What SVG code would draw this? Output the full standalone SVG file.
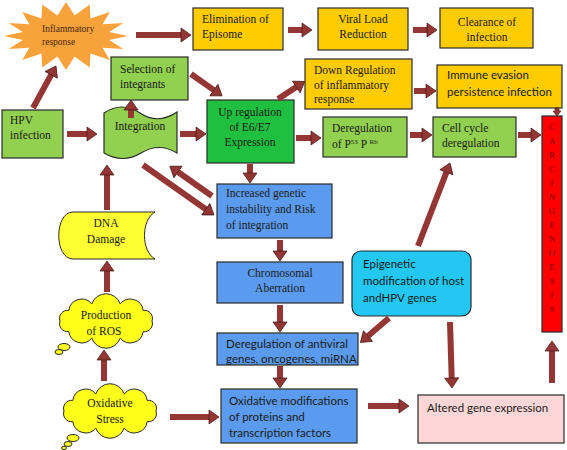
<svg xmlns="http://www.w3.org/2000/svg" width="567" height="450" viewBox="0 0 567 450">
<defs>
<marker id="ah" markerUnits="userSpaceOnUse" markerWidth="12" markerHeight="16" refX="0" refY="8" orient="auto" overflow="visible">
<path d="M0,1 L10,8 L0,15 Z" fill="#943634" stroke="#3d1414" stroke-width="0.7"/>
</marker>
</defs>
<style>
.bx{stroke:#2a2a2a;stroke-width:1.2}
.y{fill:#FFCC00}
.g{fill:#92D050}
.dg{fill:#1FBF3F}
.b{fill:#5B9BEF}
.cy{fill:#22C7F2}
.pk{fill:#FDD7D7}
.s{font-family:'Liberation Serif','Times New Roman',serif;font-size:11.5px;fill:#1a1a1a}
.ss{font-family:Lato,'Liberation Sans',sans-serif;font-size:11.5px;fill:#1a1a1a}
.c{text-anchor:middle}
.ar{stroke:#943634;stroke-width:6;fill:none;marker-end:url(#ah)}
.cl{fill:#FFFF1A;stroke:#2a2a2a;stroke-width:1}
.lt{font-family:'Liberation Serif',serif;font-size:9px;fill:#7a0000;text-anchor:middle}
</style>
<rect width="567" height="450" fill="#ffffff"/>

<g id="inflammatory">
<polygon points="128,36 109.2,40.1 123.3,49 102.6,47.7 109.8,60 90.5,53.5 89.7,67.4 74.6,56.6 66,70 57.4,56.6 42.3,67.4 41.5,53.5 22.2,60 29.4,47.7 8.7,49 22.8,40.1 4,36 22.8,31.9 8.7,23 29.4,24.3 22.2,12 41.5,18.5 42.3,4.6 57.4,15.4 66,2 74.6,15.4 89.7,4.6 90.5,18.5 109.8,12 102.6,24.3 123.3,23 109.2,31.9" fill="#F8A23C"/>
<text x="42" y="32" font-family="Liberation Serif, serif" font-size="9.5" fill="#4a2a10">Inflammatory</text>
<text x="42" y="45" font-family="Liberation Serif, serif" font-size="9.5" fill="#4a2a10">response</text>
</g>

<g id="elimination">
<rect x="193" y="8" width="90" height="42" class="bx y"/>
<text x="202" y="23" class="s">Elimination of</text>
<text x="202" y="38" class="s">Episome</text>
</g>
<g id="viral">
<rect x="318" y="8" width="90" height="42" class="bx y"/>
<text x="363" y="23" class="s c">Viral Load</text>
<text x="363" y="38" class="s c">Reduction</text>
</g>
<g id="clearance">
<rect x="440" y="8" width="93" height="40" class="bx y"/>
<text x="487" y="26" class="s c">Clearance of</text>
<text x="487" y="41" class="s c">infection</text>
</g>

<g id="selection">
<rect x="111" y="57" width="77" height="43" class="bx g"/>
<text x="120" y="73" class="s">Selection of</text>
<text x="120" y="88" class="s">integrants</text>
</g>
<g id="hpv">
<rect x="2" y="110" width="61" height="48" class="bx g"/>
<text x="10" y="124" class="s">HPV</text>
<text x="10" y="139" class="s">infection</text>
</g>
<g id="integration">
<path d="M104,113 Q122,101 140,113 T177,112 L177,153 Q159,142 141,153 T104,153 Z" class="bx g"/>
<text x="140" y="130" class="s c">Integration</text>
</g>
<g id="upregulation">
<rect x="207" y="100" width="87" height="63" class="bx dg"/>
<text x="250" y="116" class="s c">Up regulation</text>
<text x="250" y="131" class="s c">of E6/E7</text>
<text x="250" y="146" class="s c">Expression</text>
</g>
<g id="downregulation">
<rect x="305" y="59" width="107" height="50" class="bx y"/>
<text x="314" y="74" class="s">Down Regulation</text>
<text x="314" y="89" class="s">of inflammatory</text>
<text x="314" y="103" class="s">response</text>
</g>
<g id="immune">
<rect x="437" y="65" width="125" height="43" class="bx y"/>
<text x="447" y="79" class="ss">Immune evasion</text>
<text x="447" y="96" class="ss">persistence infection</text>
</g>
<g id="p53">
<rect x="323" y="117" width="84" height="40" class="bx g"/>
<text x="332" y="132" class="s">Deregulation</text>
<text x="332" y="148" class="s">of P<tspan dy="-4" font-size="7">53</tspan><tspan dy="4"> P </tspan><tspan dy="-4" font-size="7">Rb</tspan></text>
</g>
<g id="cellcycle">
<rect x="433" y="117" width="83" height="40" class="bx g"/>
<text x="442" y="132" class="s">Cell cycle</text>
<text x="442" y="147" class="s">deregulation</text>
</g>
<g id="carcinogenesis">
<rect x="542" y="116" width="20" height="216" class="bx" fill="#FF0000"/>
<text x="552" y="130" class="lt">C</text>
<text x="552" y="144" class="lt">A</text>
<text x="552" y="158" class="lt">R</text>
<text x="552" y="172" class="lt">C</text>
<text x="552" y="186" class="lt">I</text>
<text x="552" y="200" class="lt">N</text>
<text x="552" y="214" class="lt">G</text>
<text x="552" y="228" class="lt">E</text>
<text x="552" y="242" class="lt">N</text>
<text x="552" y="256" class="lt">O</text>
<text x="552" y="270" class="lt">E</text>
<text x="552" y="284" class="lt">S</text>
<text x="552" y="298" class="lt">I</text>
<text x="552" y="312" class="lt">S</text>
</g>
<g id="instability">
<rect x="217" y="184" width="115" height="54" class="bx b"/>
<text x="226" y="197" class="s">Increased genetic</text>
<text x="226" y="213" class="s">instability and Risk</text>
<text x="226" y="229" class="s">of integration</text>
</g>
<g id="chromosomal">
<rect x="217" y="262" width="126" height="41" class="bx b"/>
<text x="280" y="277" class="s c">Chromosomal</text>
<text x="280" y="292" class="s c">Aberration</text>
</g>
<g id="epigenetic">
<rect x="352" y="251" width="119" height="65" rx="9" class="bx cy"/>
<text x="363" y="268" class="ss">Epigenetic</text>
<text x="363" y="285" class="ss">modification of host</text>
<text x="363" y="302" class="ss">andHPV genes</text>
</g>
<g id="antiviral">
<rect x="217" y="333" width="141" height="32" class="bx b"/>
<text x="226" y="348" class="ss">Deregulation of antiviral</text>
<text x="226" y="363" class="ss">genes, oncogenes, miRNA</text>
</g>
<g id="oxmod">
<rect x="221" y="389" width="136" height="54" class="bx b"/>
<text x="229" y="405" class="ss">Oxidative modifications</text>
<text x="229" y="421" class="ss">of proteins and</text>
<text x="229" y="437" class="ss">transcription factors</text>
</g>
<g id="altered">
<rect x="418" y="395" width="146" height="48" class="bx pk"/>
<text x="427" y="412" class="ss">Altered gene expression</text>
</g>
<g id="dna">
<path d="M73,212 H155 C141,220 141,251 155,259 H73 C54,259 54,212 73,212 Z" fill="#FFFF33" stroke="#2a2a2a" stroke-width="1"/>
<text x="106" y="227" class="s c">DNA</text>
<text x="106" y="243" class="s c">Damage</text>
</g>
<g id="ros">
<path d="M152,321 A8,8 0 0 1 143.2,331.6 A13,13 0 0 1 120.2,338.1 A15,15 0 0 1 91.8,338.1 A13,13 0 0 1 68.8,331.6 A8,8 0 0 1 60,321 A8,8 0 0 1 68.8,310.4 A13,13 0 0 1 91.8,303.9 A15,15 0 0 1 120.2,303.9 A13,13 0 0 1 143.2,310.4 A8,8 0 0 1 152,321 Z" class="cl"/>
<ellipse cx="64" cy="347" rx="6" ry="3.5" class="cl"/>
<ellipse cx="59" cy="352" rx="4" ry="2.5" class="cl"/>
<text x="106" y="319" class="s c">Production</text>
<text x="104" y="335" class="s c">of ROS</text>
</g>
<g id="oxstress">
<path d="M156,411 A8,8 0 0 1 147.2,421.6 A13,13 0 0 1 124.2,428.1 A15,15 0 0 1 95.8,428.1 A13,13 0 0 1 72.8,421.6 A8,8 0 0 1 64,411 A8,8 0 0 1 72.8,400.4 A13,13 0 0 1 95.8,393.9 A15,15 0 0 1 124.2,393.9 A13,13 0 0 1 147.2,400.4 A8,8 0 0 1 156,411 Z" class="cl"/>
<ellipse cx="73" cy="438" rx="6" ry="3.5" class="cl"/>
<ellipse cx="68" cy="444" rx="4" ry="2.5" class="cl"/>
<ellipse cx="64" cy="448" rx="2.5" ry="1.7" class="cl"/>
<text x="110" y="407" class="s c">Oxidative</text>
<text x="110" y="423" class="s c">Stress</text>
</g>

<g id="connectors">
<line x1="33" y1="108" x2="51.2" y2="74.8" class="ar"/>
<line x1="136" y1="35" x2="181" y2="35" class="ar"/>
<line x1="288" y1="30" x2="302" y2="30" class="ar"/>
<line x1="413" y1="30" x2="427" y2="30" class="ar"/>
<line x1="67" y1="134" x2="87" y2="134" class="ar"/>
<line x1="131" y1="118" x2="131" y2="110" class="ar"/>
<line x1="180" y1="134" x2="196" y2="134" class="ar"/>
<line x1="191" y1="74" x2="213.9" y2="90.1" class="ar"/>
<line x1="278" y1="99" x2="296.3" y2="87" class="ar"/>
<line x1="296" y1="138" x2="311" y2="138" class="ar"/>
<line x1="414" y1="91" x2="426" y2="91" class="ar"/>
<line x1="410" y1="135" x2="422" y2="135" class="ar"/>
<line x1="518" y1="135" x2="531" y2="135" class="ar"/>
<polygon points="555,108 559,108 559,111 561,111 557,116 553,111 555,111" fill="#943634" stroke="#3d1414" stroke-width="0.6"/>
<line x1="250" y1="164" x2="250" y2="173" class="ar"/>
<line x1="143" y1="165" x2="205.8" y2="209.2" class="ar"/>
<line x1="212" y1="196" x2="178" y2="172" class="ar"/>
<line x1="107" y1="210" x2="107" y2="175" class="ar"/>
<line x1="107" y1="292" x2="107" y2="271" class="ar"/>
<line x1="104" y1="381" x2="104" y2="360" class="ar"/>
<line x1="170" y1="417" x2="209" y2="417" class="ar"/>
<line x1="280" y1="240" x2="280" y2="251" class="ar"/>
<line x1="280" y1="305" x2="280" y2="322" class="ar"/>
<line x1="280" y1="366" x2="280" y2="378" class="ar"/>
<line x1="389" y1="318" x2="368" y2="336" class="ar"/>
<line x1="418" y1="246" x2="446.4" y2="172.3" class="ar"/>
<line x1="450" y1="322" x2="451.7" y2="378" class="ar"/>
<line x1="368" y1="406" x2="399" y2="406" class="ar"/>
<line x1="552" y1="383" x2="552" y2="351" class="ar"/>
</g>
</svg>
